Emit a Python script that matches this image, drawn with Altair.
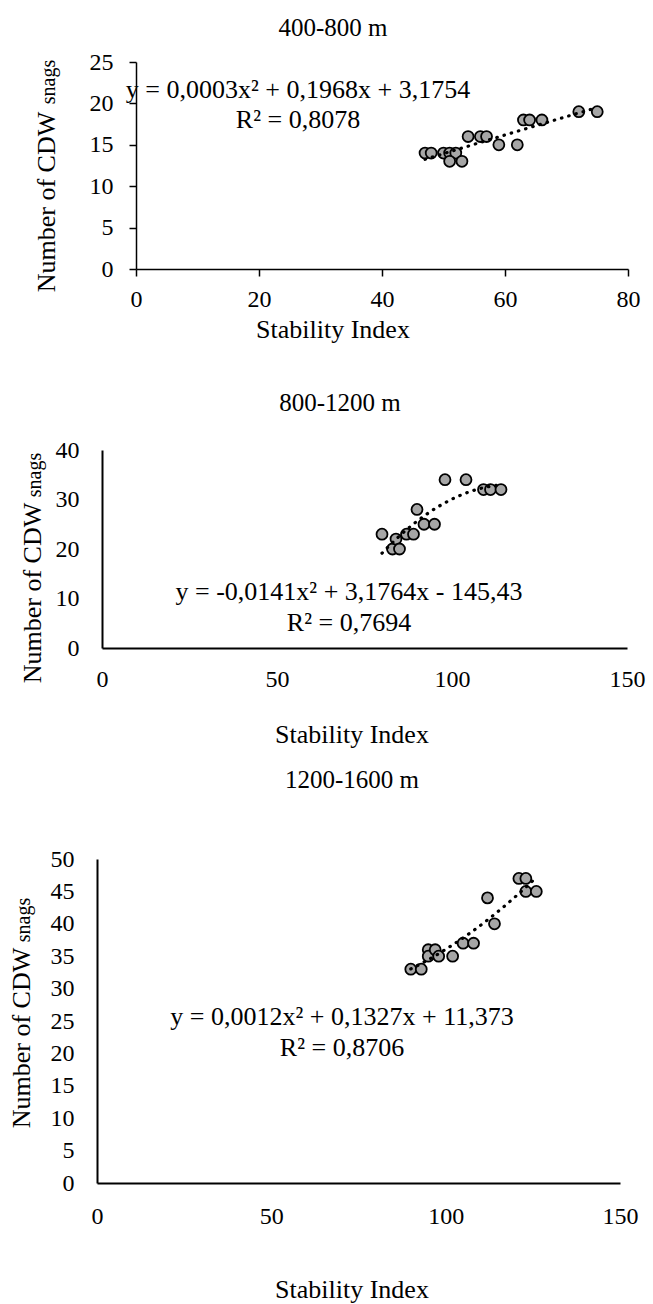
import altair as alt
import pandas as pd

FONT = "Liberation Serif"
FILL = "#A6A6A6"
W_TOTAL, H_TOTAL = 653, 1304

# ---------------- data ----------------
p1_x = [47, 48, 50, 51, 52, 51, 53, 54, 56, 57, 59, 62, 63, 64, 66, 72, 75]
p1_y = [14, 14, 14, 14, 14, 13, 13, 16, 16, 16, 15, 15, 18, 18, 18, 19, 19]

p2_x = [80, 83, 84, 85, 87, 89, 90, 92, 95, 98, 104, 109, 111, 114]
p2_y = [23, 20, 22, 20, 23, 23, 28, 25, 25, 34, 34, 32, 32, 32]

p3_x = [90, 93, 95, 95, 97, 98, 102, 105, 108, 112, 114, 121, 123, 123, 126]
p3_y = [33, 33, 36, 35, 36, 35, 35, 37, 37, 44, 40, 47, 47, 45, 45]

titles = ["400-800 m", "800-1200 m", "1200-1600 m"]
equations = [
    "y = 0,0003x² + 0,1968x + 3,1754",
    "y = -0,0141x² + 3,1764x - 145,43",
    "y = 0,0012x² + 0,1327x + 11,373",
]
r2_texts = ["R² = 0,8078", "R² = 0,7694", "R² = 0,8706"]
x_ticks = [[0, 20, 40, 60, 80], [0, 50, 100, 150], [0, 50, 100, 150]]
y_ticks = [[0, 5, 10, 15, 20, 25], [0, 10, 20, 30, 40],
           [0, 5, 10, 15, 20, 25, 30, 35, 40, 45, 50]]
x_title = "Stability Index"
y_title_main = "Number of CDW"
y_title_sub = "snags"


def label(text, x, y, size, angle=0, baseline="middle", align="center"):
    return alt.Chart(pd.DataFrame({"t": [0]})).mark_text(
        text=text, font=FONT, fontSize=size, color="black",
        angle=angle, baseline=baseline, align=align,
    ).encode(x=alt.value(x), y=alt.value(y))


def make_panel(xs, ys, xt, yt, left, right, top, bottom, ticks, dom_w, lpx, lpy):
    df = pd.DataFrame({"x": xs, "y": ys})
    tick_size = 7 if ticks else 0
    common_axis = dict(
        title=None, grid=False, ticks=ticks, tickSize=tick_size,
        tickColor="black", tickWidth=dom_w, domainColor="black",
        domainWidth=dom_w, labelFont=FONT, labelFontSize=24,
        labelColor="black", labelFlush=False, labelOverlap=False,
        format="d",
    )
    xenc = alt.X(
        "x:Q",
        scale=alt.Scale(domain=[xt[0], xt[-1]], range=[left, right], nice=False, zero=False),
        axis=alt.Axis(values=xt, labelPadding=lpx, orient="bottom",
                      offset=bottom - H_TOTAL, **common_axis),
    )
    yenc = alt.Y(
        "y:Q",
        scale=alt.Scale(domain=[yt[0], yt[-1]], range=[bottom, top], nice=False, zero=False),
        axis=alt.Axis(values=yt, labelPadding=lpy, orient="left",
                      offset=-left, **common_axis),
    )
    pts = alt.Chart(df).mark_circle(
        size=120, color=FILL, stroke="black", strokeWidth=1.8, opacity=1
    ).encode(x=xenc, y=yenc)
    trend = alt.Chart(df).transform_regression(
        "x", "y", method="poly", order=2
    ).mark_line(
        color="black", strokeDash=[0.5, 7], strokeCap="round", strokeWidth=3.2
    ).encode(x="x:Q", y="y:Q")
    return alt.layer(pts, trend)


def panel_texts(i, title_xy, eq_xy, r2_xy, st_xy, yt_x, yt_main_y, yt_sub_y):
    return [
        label(titles[i], *title_xy, 25),
        label(equations[i], *eq_xy, 26),
        label(r2_texts[i], *r2_xy, 26),
        label(x_title, *st_xy, 26),
        label(y_title_main, yt_x, yt_main_y, 26, angle=270, baseline="alphabetic"),
        label(y_title_sub, yt_x, yt_sub_y, 20, angle=270, baseline="alphabetic"),
    ]


p1 = make_panel(p1_x, p1_y, x_ticks[0], y_ticks[0], left=136, right=628,
                top=62, bottom=269, ticks=True, dom_w=1.5, lpx=11, lpy=16)
p2 = make_panel(p2_x, p2_y, x_ticks[1], y_ticks[1], left=102, right=627,
                top=450, bottom=648, ticks=False, dom_w=2, lpx=19, lpy=23)
p3 = make_panel(p3_x, p3_y, x_ticks[2], y_ticks[2], left=97, right=620,
                top=859, bottom=1183, ticks=False, dom_w=2, lpx=21, lpy=23)

texts = (
    panel_texts(0, (333, 28), (298, 90), (298, 120), (333, 330), 55, 202, 82)
    + panel_texts(1, (340, 403), (349, 592), (349, 623), (352, 735), 41, 593, 475)
    + panel_texts(2, (352, 780), (342, 1017), (342, 1048), (352, 1290), 30, 1038, 920)
)

chart = alt.layer(p1, p2, p3, *texts).resolve_scale(
    x="independent", y="independent"
).resolve_axis(
    x="independent", y="independent"
).properties(
    width=W_TOTAL, height=H_TOTAL, padding=0,
    autosize=alt.AutoSizeParams(type="none"),
).configure_view(stroke=None)

chart.save("out.html", embed_options={"renderer": "svg", "actions": False})
